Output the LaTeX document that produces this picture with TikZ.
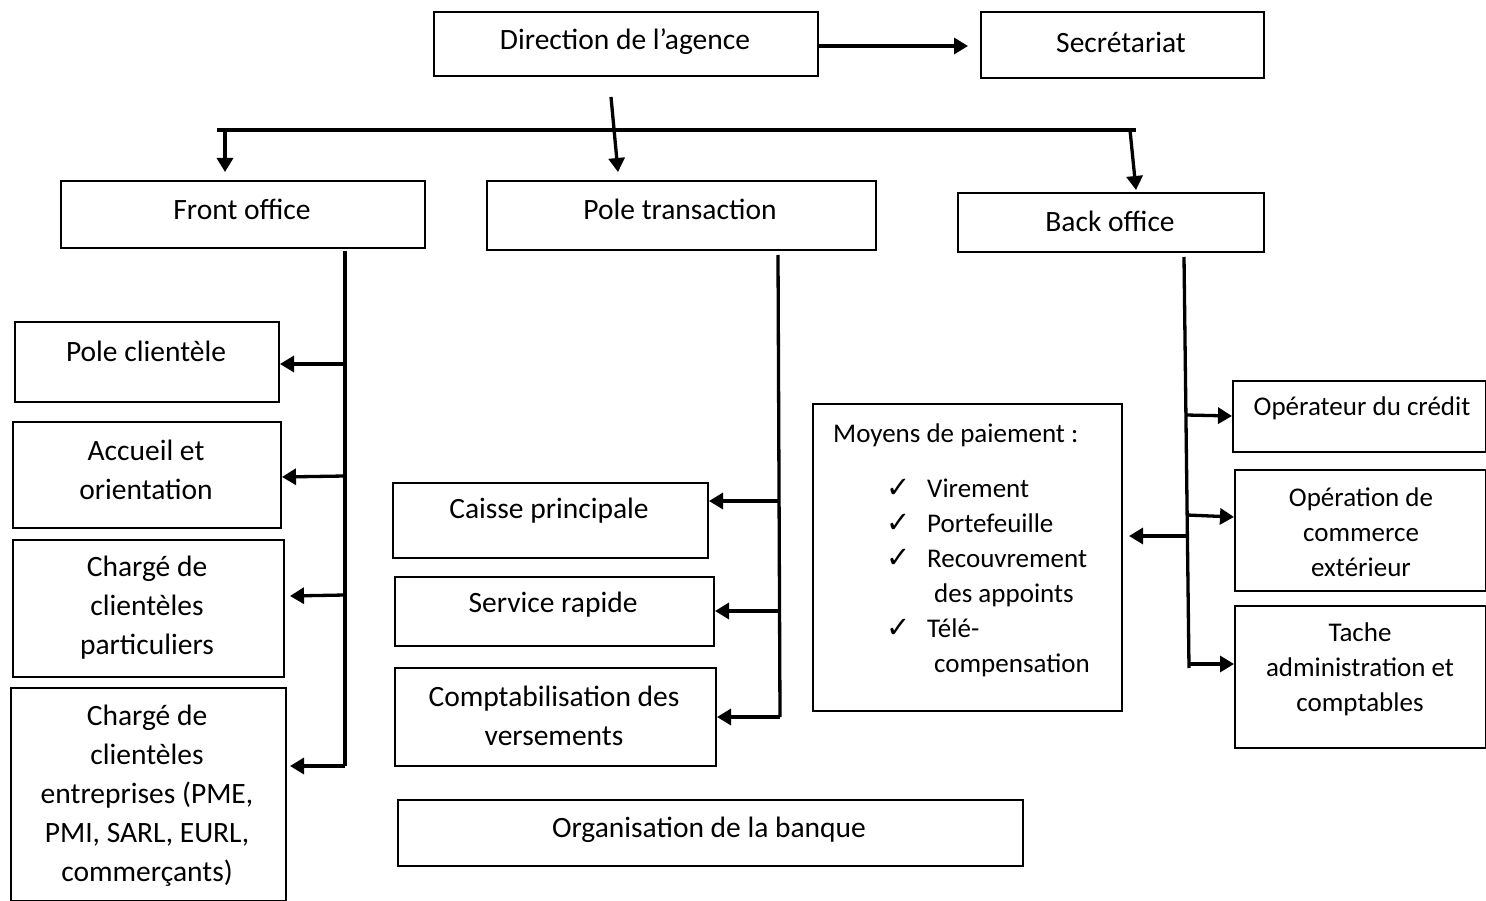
\documentclass[tikz,border=0pt]{standalone}
\usepackage{fontspec}
\setmainfont{Carlito}
\newfontfamily\symfont{DejaVu Sans}
\usetikzlibrary{arrows.meta}

\tikzset{
  box/.style={draw, line width=2pt, inner sep=0pt, anchor=north west},
  txt/.style={font=\fontsize{29.5}{39}\selectfont, align=center, inner sep=0pt},
  stxt/.style={font=\fontsize{27}{35}\selectfont, align=center, inner sep=0pt},
  ltxt/.style={font=\fontsize{27}{35}\selectfont, anchor=base west, inner sep=0pt},
  tick/.style={font=\symfont\fontsize{29}{35}\selectfont, anchor=base west, inner sep=0pt},
  link/.style={line width=3.3pt},
  arr/.style={line width=3.3pt, -{Triangle[length=14pt,width=16pt]}},
}

\begin{document}
\begin{tikzpicture}[x=1pt,y=-1pt]
\useasboundingbox (0,0) rectangle (1486,901);

% --- top level ---
\node[box, minimum width=384, minimum height=64] (dir) at (433,11) {};
\node[txt] (dirt) at (625,42) {Direction de l’agence};
\node[box, minimum width=283, minimum height=66] (sec) at (980,11) {};
\node[txt] (sect) at (1121,42) {Secrétariat};

% --- departments ---
\node[box, minimum width=364, minimum height=67] (fo) at (60,180) {};
\node[txt] (fot) at (242,209) {Front office};
\node[box, minimum width=389, minimum height=69] (pt) at (486,180) {};
\node[txt] (ptt) at (680,209) {Pole transaction};
\node[box, minimum width=306, minimum height=59] (bo) at (957,192) {};
\node[txt] (bot) at (1110,221) {Back office};

% --- front office units ---
\node[box, minimum width=264, minimum height=80] (pc) at (14,321) {};
\node[txt] (pct) at (146,351) {Pole clientèle};
\node[box, minimum width=268, minimum height=106] (ac) at (12,421) {};
\node[txt] (act) at (146,470) {Accueil et\\orientation};
\node[box, minimum width=271, minimum height=137] (cp) at (12,539) {};
\node[txt] (cpt) at (147,608) {Chargé de\\clientèles\\particuliers};
\node[box, minimum width=275, minimum height=213] (ce) at (10,687) {};
\node[txt] (cet) at (147,796) {Chargé de\\clientèles\\entreprises (PME,\\PMI, SARL, EURL,\\commerçants)};

% --- transaction units ---
\node[box, minimum width=315, minimum height=75] (cai) at (392,482) {};
\node[txt] (cait) at (549,511) {Caisse principale};
\node[box, minimum width=319, minimum height=69] (sr) at (394,576) {};
\node[txt] (srt) at (553,605) {Service rapide};
\node[box, minimum width=321, minimum height=98] (cv) at (394,667) {};
\node[txt] (cvt) at (554,716) {Comptabilisation des\\versements};
\node[box, minimum width=625, minimum height=66] (org) at (397,799) {};
\node[txt] (orgt) at (709,830) {Organisation de la banque};

% --- back office units ---
\node[box, minimum width=309, minimum height=307] (mp) at (812,403) {};
\node[ltxt] (m0) at (833,442) {Moyens de paiement :};
\node[tick] (k1) at (886,497) {✓};
\node[ltxt] (m1) at (927,497) {Virement};
\node[tick] (k2) at (886,532) {✓};
\node[ltxt] (m2) at (927,532) {Portefeuille};
\node[tick] (k3) at (886,567) {✓};
\node[ltxt] (m3) at (927,567) {Recouvrement};
\node[ltxt] (m4) at (934,602) {des appoints};
\node[tick] (k5) at (886,637) {✓};
\node[ltxt] (m5) at (927,637) {Télé-};
\node[ltxt] (m6) at (934,672) {compensation};

\node[box, minimum width=253, minimum height=71] (opc) at (1232,380) {};
\node[stxt] (opct) at (1362,408) {Opérateur du crédit};
\node[box, minimum width=251, minimum height=121] (oce) at (1234,469) {};
\node[stxt] (ocet) at (1361,532) {Opération de\\commerce\\extérieur};
\node[box, minimum width=251, minimum height=142] (tac) at (1234,605) {};
\node[stxt] (tact) at (1360,669) {Tache\\administration et\\comptables};

% --- connector points ---
\coordinate (d0) at (611,97);
\coordinate (ptin) at (618,172);
\coordinate (barL) at (217,130);
\coordinate (barR) at (1136,130);
\coordinate (foin) at (225,172);
\coordinate (bo0) at (1130,130);
\coordinate (boin) at (1136,190);

\coordinate (fv0) at (345,251);
\coordinate (fv1) at (345,766);
\coordinate (tv0) at (778,255);
\coordinate (tv1) at (780,717);
\coordinate (bv0) at (1184,257);
\coordinate (bv1) at (1189,668);

% --- connectors ---
\draw[arr] (dir.east |- 0,46) -- (968,46) coordinate (secin);
\draw[arr] (d0) -- (ptin);
\draw[link] (barL) -- (barR);
\draw[arr] (225,130) -- (foin);
\draw[arr] (bo0) -- (boin);

\draw[link] (fv0) -- (fv1);
\draw[arr] (345,364) -- (pc.east |- 0,364);
\draw[arr] (345,476) -- (ac.east |- 0,477);
\draw[arr] (345,595) -- ([xshift=5pt]cp.east |- 0,596);
\draw[arr] (fv1) -- ([xshift=3pt]ce.east |- 0,766);

\draw[link] (tv0) -- (tv1);
\draw[arr] (778,501) -- (cai.east |- 0,501);
\draw[arr] (779,611) -- (sr.east |- 0,611);
\draw[arr] (tv1) -- (cv.east |- 0,717);

\draw[link] (bv0) -- (bv1);
\draw[arr] (1186,415) -- (opc.west |- 0,416);
\draw[arr] (1187,515) -- (oce.west |- 0,517);
\draw[arr] (1189,664) -- (tac.west |- 0,664);
\draw[arr] (1187,536) -- ([xshift=6pt]mp.east |- 0,536);
\end{tikzpicture}
\end{document}
